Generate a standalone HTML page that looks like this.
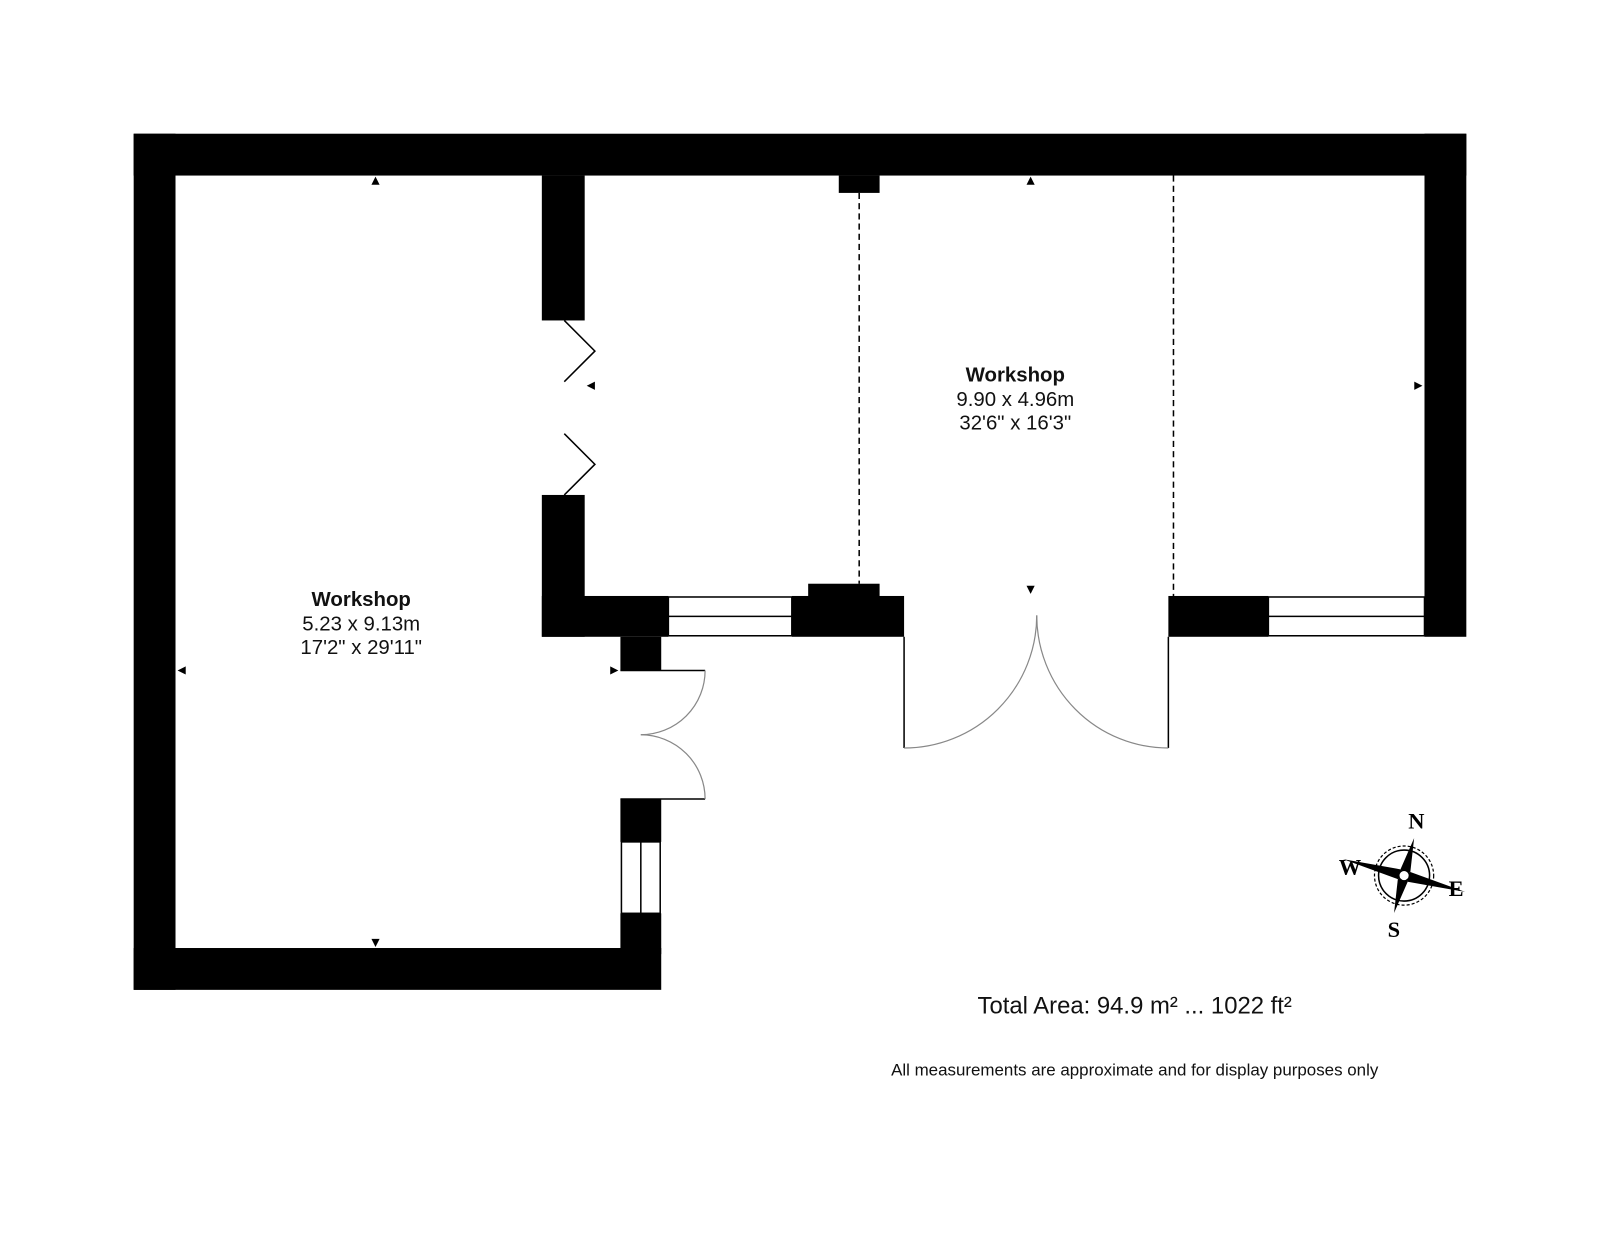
<!DOCTYPE html>
<html><head><meta charset="utf-8"><style>html,body{margin:0;padding:0;background:#fff}svg{display:block}</style></head><body>
<svg width="1600" height="1245" viewBox="0 0 1568 1220" xmlns="http://www.w3.org/2000/svg" font-family="Liberation Sans, Arial, sans-serif">
<rect width="1568" height="1220" fill="#fff"/>
<g fill="#000">
<rect x="131" y="131" width="1306" height="41"/>
<rect x="131" y="131" width="41" height="839"/>
<rect x="131" y="929" width="517" height="41"/>
<rect x="1396" y="131" width="41" height="493"/>
<rect x="531" y="172" width="42" height="142"/>
<rect x="531" y="485" width="42" height="139"/>
<rect x="531" y="584" width="124" height="40"/>
<rect x="776" y="584" width="110" height="40"/>
<rect x="792" y="572" width="70" height="14"/>
<rect x="822" y="172" width="40" height="17"/>
<rect x="608" y="624" width="40" height="33"/>
<rect x="608" y="783" width="40" height="42"/>
<rect x="608" y="895" width="40" height="40"/>
<rect x="1145" y="584" width="98" height="40"/>
</g>
<g fill="none" stroke="#000" stroke-width="1.5">
<rect x="655" y="585" width="121" height="38"/>
<line x1="655" y1="604" x2="776" y2="604"/>
<rect x="1243" y="585" width="153" height="38"/>
<line x1="1243" y1="604" x2="1396" y2="604"/>
<rect x="609" y="825" width="38" height="70"/>
<line x1="628" y1="825" x2="628" y2="895"/>
<line x1="608" y1="657" x2="691" y2="657"/>
<line x1="608" y1="783" x2="691" y2="783"/>
<line x1="886" y1="624" x2="886" y2="733"/>
<line x1="1145" y1="624" x2="1145" y2="733"/>
<polyline points="553,314 583,344 553,374"/>
<polyline points="553,425 583,455 553,485"/>
</g>
<g fill="none" stroke="#888" stroke-width="1.2">
<path d="M691 657 A63 63 0 0 1 628 720"/>
<path d="M628 720 A63 63 0 0 1 691 783"/>
<path d="M1016 603 A130 130 0 0 1 886 733"/>
<path d="M1016 603 A129 130 0 0 0 1145 733"/>
</g>
<g stroke="#000" stroke-width="1.5" stroke-dasharray="6,4">
<line x1="842" y1="189" x2="842" y2="572"/>
<line x1="1150" y1="172" x2="1150" y2="584"/>
</g>
<g fill="#000">
<polygon points="364,181 372,181 368,173"/>
<polygon points="364,920 372,920 368,928"/>
<polygon points="182,653 182,661 174,657"/>
<polygon points="598,653 598,661 606,657"/>
<polygon points="583,374 583,382 575,378"/>
<polygon points="1386,374 1386,382 1394,378"/>
<polygon points="1006,181 1014,181 1010,173"/>
<polygon points="1006,574 1014,574 1010,582"/>
</g>
<g text-anchor="middle" font-size="20" fill="#111">
<text x="354" y="594" font-weight="bold">Workshop</text>
<text x="354" y="618">5.23 x 9.13m</text>
<text x="354" y="641">17'2" x 29'11"</text>
<text x="995" y="374" font-weight="bold">Workshop</text>
<text x="995" y="398">9.90 x 4.96m</text>
<text x="995" y="421">32'6" x 16'3"</text>
<text x="1112" y="993" font-size="23.4">Total Area: 94.9 m² ... 1022 ft²</text>
<text x="1112" y="1054" font-size="16.6">All measurements are approximate and for display purposes only</text>
</g>
<g transform="translate(1376,858)">
<circle r="25" fill="none" stroke="#000" stroke-width="1.5"/>
<circle r="29" fill="none" stroke="#000" stroke-width="1.2" stroke-dasharray="3,2"/>
<g transform="rotate(15)" fill="#000">
<polygon points="0,-38 5,-5 0,0 -5,-5"/>
<polygon points="0,38 5,5 0,0 -5,5"/>
<polygon points="-62,0 -5,-5 0,0 -5,5"/>
<polygon points="62,0 5,-5 0,0 5,5"/>
</g>
<circle r="5" fill="#fff" stroke="#000" stroke-width="1"/>
</g>
<g font-family="Liberation Serif, serif" font-weight="bold" font-size="22" text-anchor="middle" fill="#000">
<text x="1388" y="812">N</text>
<text x="1323" y="857">W</text>
<text x="1427" y="878">E</text>
<text x="1366" y="918">S</text>
</g>
</svg>
</body></html>
